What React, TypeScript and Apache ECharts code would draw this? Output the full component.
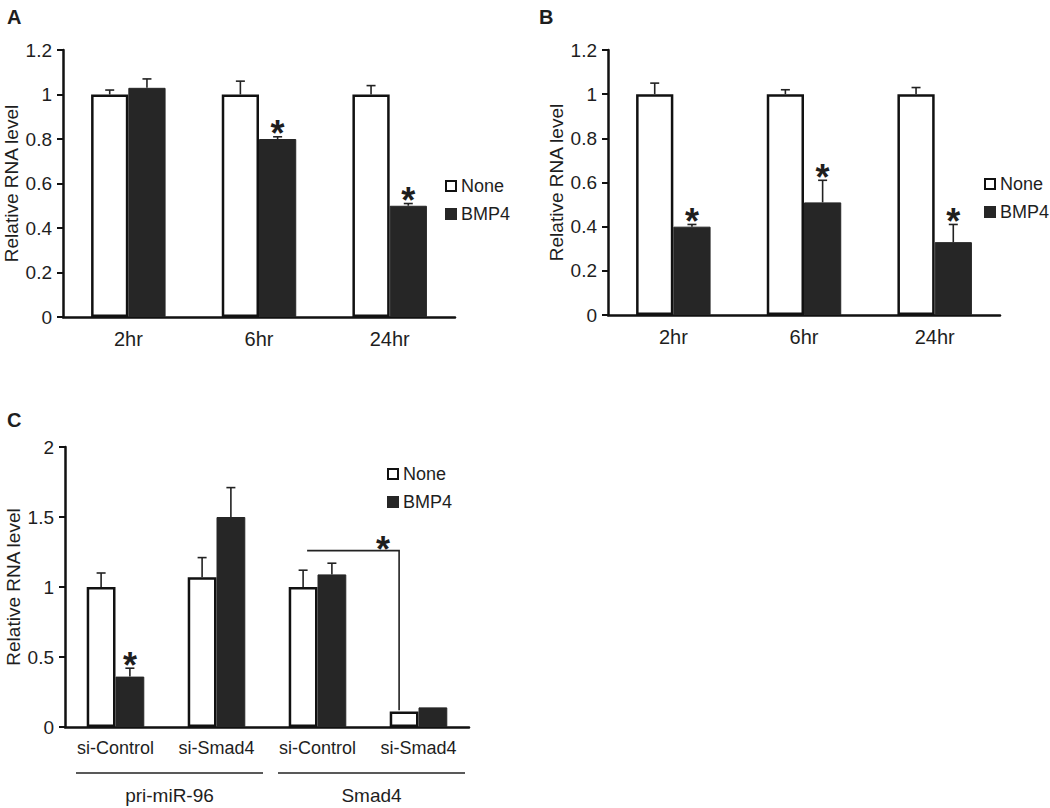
import React, { useEffect, useRef } from "react";
import * as echarts from "echarts";

const catsAB = ["2hr", "6hr", "24hr"];
const noneA = [1.0, 1.0, 1.0];
const errNoneA = [0.02, 0.06, 0.04];
const bmpA = [1.03, 0.8, 0.5];
const errBmpA = [0.04, 0.01, 0.01];
const sigA = [false, true, true];

const noneB = [1.0, 1.0, 1.0];
const errNoneB = [0.05, 0.02, 0.03];
const bmpB = [0.4, 0.51, 0.33];
const errBmpB = [0.01, 0.1, 0.08];
const sigB = [true, true, true];

const catsC = ["si-Control", "si-Smad4", "si-Control", "si-Smad4"];
const noneC = [1.0, 1.07, 1.0, 0.11];
const errNoneC = [0.1, 0.14, 0.12, 0];
const bmpC = [0.36, 1.5, 1.09, 0.14];
const errBmpC = [0.06, 0.21, 0.08, 0];
const sigC = [true, false, false, false];

const groupNamesC = ["pri-miR-96", "Smad4"];
const groupFromC = [0, 2];
const groupToC = [1, 3];

// bracket: from None bar of category 2 to None bar of category 3
const bracketC = [2, 3, 1.26, 0.12];

const FONT = "Liberation Sans, Arial, Helvetica, sans-serif";
const TXT = "#1e1e1e";
const DARK = "#262626";
const GAP_FRAC = 0.57;
const STAR_SIZE = 36;

function errRender(params: any, api: any) {
  const cat = api.value(0);
  const val = api.value(1);
  const err = api.value(2);
  const slot = api.value(3);
  const sig = api.value(4);
  const band = api.size([1, 0])[0];
  const bw = (band * GAP_FRAC) / 2;
  const base = api.coord([cat, val]);
  const x = base[0] + (slot === 0 ? -bw / 2 : bw / 2);
  const yTop = api.coord([cat, val + err])[1];
  const children: any[] = [];
  if (err > 0) {
    children.push({
      type: "line",
      shape: { x1: x, y1: base[1], x2: x, y2: yTop },
      style: { stroke: "#222", lineWidth: 1.6 },
    });
    children.push({
      type: "line",
      shape: { x1: x - 4.5, y1: yTop, x2: x + 4.5, y2: yTop },
      style: { stroke: "#222", lineWidth: 1.6 },
    });
  }
  if (sig) {
    children.push({
      type: "text",
      style: {
        text: "*",
        x: x,
        y: yTop - 3,
        align: "center",
        verticalAlign: "middle",
        fontSize: STAR_SIZE,
        fontWeight: "bold",
        fontFamily: FONT,
        fill: TXT,
      },
    });
  }
  return { type: "group", children };
}

function errData(vals: number[], errs: number[], slot: number, sig: boolean[]) {
  return vals.map((v, i) => [i, v, errs[i], slot, slot === 1 && sig[i] ? 1 : 0]);
}

function groupRender(params: any, api: any) {
  const from = api.value(0);
  const to = api.value(1);
  const band = api.size([1, 0])[0];
  const p0 = api.coord([from, 0]);
  const p1 = api.coord([to, 0]);
  const x1 = p0[0] - band / 2 + 11;
  const x2 = p1[0] + band / 2 - 4;
  const y = p0[1] + 46;
  const name = groupNamesC[params.dataIndex];
  return {
    type: "group",
    children: [
      {
        type: "line",
        shape: { x1, y1: y, x2, y2: y },
        style: { stroke: "#222", lineWidth: 1.6 },
      },
      {
        type: "text",
        style: {
          text: name,
          x: (x1 + x2) / 2,
          y: y + 22,
          align: "center",
          verticalAlign: "middle",
          fontSize: 19,
          fontFamily: FONT,
          fill: TXT,
        },
      },
    ],
  };
}

function bracketRender(params: any, api: any) {
  const from = api.value(0);
  const to = api.value(1);
  const lvl = api.value(2);
  const endLvl = api.value(3);
  const band = api.size([1, 0])[0];
  const bw = (band * GAP_FRAC) / 2;
  const a = api.coord([from, lvl]);
  const b = api.coord([to, endLvl]);
  const xa = a[0] - bw / 2 + 4;
  const xb = b[0] - bw / 2 - 5;
  return {
    type: "group",
    children: [
      {
        type: "polyline",
        shape: { points: [[xa, a[1]], [xb, a[1]], [xb, b[1]]] },
        style: { stroke: "#222", lineWidth: 1.6, fill: "none" },
      },
      {
        type: "text",
        style: {
          text: "*",
          x: xb - 16,
          y: a[1] - 1,
          align: "center",
          verticalAlign: "middle",
          fontSize: STAR_SIZE,
          fontWeight: "bold",
          fontFamily: FONT,
          fill: TXT,
        },
      },
    ],
  };
}

function xAxisCfg(cats: string[], gridIndex: number, size: number) {
  return {
    type: "category",
    gridIndex,
    data: cats,
    axisLine: { lineStyle: { color: "#111", width: 2.5 } },
    axisTick: { show: false },
    axisLabel: { color: TXT, fontSize: size, fontFamily: FONT, margin: 12, interval: 0, hideOverlap: false },
  };
}

function yAxisCfg(gridIndex: number, max: number, interval: number) {
  return {
    type: "value",
    gridIndex,
    min: 0,
    max,
    interval,
    name: "Relative RNA level",
    nameLocation: "middle",
    nameGap: 42,
    nameTextStyle: { color: TXT, fontSize: 19, fontFamily: FONT },
    splitLine: { show: false },
    axisLine: { show: true, lineStyle: { color: "#111", width: 2.5 } },
    axisTick: { show: true, length: 6, lineStyle: { color: "#111", width: 2 } },
    axisLabel: { color: TXT, fontSize: 19, fontFamily: FONT, margin: 11 },
  };
}

function barPair(idx: number, none: number[], bmp: number[]) {
  return [
    {
      name: "None",
      type: "bar",
      xAxisIndex: idx,
      yAxisIndex: idx,
      data: none,
      barGap: "0%",
      barCategoryGap: "43%",
      itemStyle: { color: "#ffffff", borderColor: "#111", borderWidth: 2.5 },
    },
    {
      name: "BMP4",
      type: "bar",
      xAxisIndex: idx,
      yAxisIndex: idx,
      data: bmp,
      barGap: "0%",
      barCategoryGap: "43%",
      itemStyle: { color: DARK, borderColor: DARK, borderWidth: 1 },
    },
  ];
}

function errSeries(idx: number, data: any[]) {
  return {
    type: "custom",
    xAxisIndex: idx,
    yAxisIndex: idx,
    renderItem: errRender,
    encode: { x: 0, y: 1 },
    data,
    z: 5,
    silent: true,
  };
}

function legendCfg(left: number, top: number) {
  return {
    orient: "vertical",
    left,
    top,
    itemWidth: 10,
    itemHeight: 10,
    itemGap: 10,
    icon: "rect",
    textStyle: { color: TXT, fontSize: 18, fontFamily: FONT },
    data: [
      { name: "None", itemStyle: { color: "#fff", borderColor: "#111", borderWidth: 2 } },
      { name: "BMP4", itemStyle: { color: DARK } },
    ],
    selectedMode: false,
  };
}

const titleStyle = { fontSize: 20, fontWeight: "bold", fontFamily: FONT, color: TXT };

export default function App() {
  const ref = useRef<HTMLDivElement>(null);
  useEffect(() => {
    if (!ref.current) return;
    const chart = echarts.init(ref.current, null, { renderer: "svg" });
    const option: any = {
      animation: false,
      backgroundColor: "#ffffff",
      title: [
        { text: "A", left: 2, top: 2, textStyle: titleStyle },
        { text: "B", left: 534, top: 2, textStyle: titleStyle },
        { text: "C", left: 2, top: 405, textStyle: titleStyle },
      ],
      legend: [legendCfg(440, 172), legendCfg(979, 170), legendCfg(382, 460)],
      grid: [
        { left: 63, top: 50, width: 392, height: 267 },
        { left: 608, top: 50, width: 392, height: 265 },
        { left: 65, top: 447, width: 404, height: 280 },
      ],
      xAxis: [xAxisCfg(catsAB, 0, 20), xAxisCfg(catsAB, 1, 20), xAxisCfg(catsC, 2, 18)],
      yAxis: [yAxisCfg(0, 1.2, 0.2), yAxisCfg(1, 1.2, 0.2), yAxisCfg(2, 2, 0.5)],
      series: [
        ...barPair(0, noneA, bmpA),
        errSeries(0, [...errData(noneA, errNoneA, 0, sigA), ...errData(bmpA, errBmpA, 1, sigA)]),
        ...barPair(1, noneB, bmpB),
        errSeries(1, [...errData(noneB, errNoneB, 0, sigB), ...errData(bmpB, errBmpB, 1, sigB)]),
        ...barPair(2, noneC, bmpC),
        errSeries(2, [...errData(noneC, errNoneC, 0, sigC), ...errData(bmpC, errBmpC, 1, sigC)]),
        {
          type: "custom",
          xAxisIndex: 2,
          yAxisIndex: 2,
          renderItem: bracketRender,
          encode: { x: [0, 1], y: [2, 3] },
          data: [bracketC],
          z: 5,
          silent: true,
        },
        {
          type: "custom",
          xAxisIndex: 2,
          yAxisIndex: 2,
          renderItem: groupRender,
          encode: { x: [0, 1], y: 2 },
          data: groupFromC.map((f, i) => [f, groupToC[i], 0]),
          clip: false,
          z: 5,
          silent: true,
        },
      ],
    };
    chart.setOption(option);
    return () => chart.dispose();
  }, []);
  return (
    <div
      ref={ref}
      style={{ position: "absolute", left: 0, top: 0, width: 1050, height: 808, background: "#fff" }}
    />
  );
}
